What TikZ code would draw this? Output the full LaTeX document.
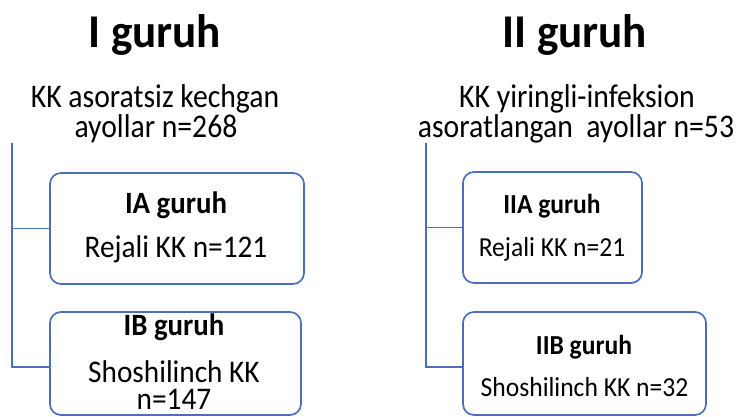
\documentclass[tikz,border=0pt]{standalone}
\usepackage{fontspec}
\setmainfont{Carlito}
\definecolor{lineblue}{RGB}{74,112,188}
\begin{document}
\begin{tikzpicture}[x=1pt,y=-1pt,
  box/.style={draw=lineblue,line width=1.7pt,rounded corners=11pt,inner sep=0pt},
  conn/.style={draw=lineblue,line width=1.7pt},
  txt/.style={anchor=base,inner sep=0pt},
  title/.style={txt,xscale=0.96,font=\fontsize{47}{52}\selectfont\bfseries},
  sub/.style={txt,xscale=0.9,font=\fontsize{33}{38}\selectfont},
  lbold/.style={txt,xscale=0.93,font=\fontsize{31}{36}\selectfont\bfseries},
  ltext/.style={txt,xscale=0.93,font=\fontsize{31.5}{36}\selectfont},
  ltwo/.style={txt,xscale=0.93,align=center,font=\fontsize{31.5}{27}\selectfont},
  rbold/.style={txt,xscale=0.93,font=\fontsize{27.5}{32}\selectfont\bfseries},
  rtext/.style={txt,xscale=0.93,font=\fontsize{27.5}{32}\selectfont}]
\useasboundingbox[fill=white] (0,0) rectangle (737,417);
% titles
\node[title] (t1) at (155,48) {I guruh};
\node[title] (t2) at (575,48) {II guruh};
\node[sub] (s1a) at (155,108) {KK asoratsiz kechgan};
\node[sub] (s1b) at (156,138) {ayollar n=268};
\node[sub] (s2a) at (577,108) {KK yiringli-infeksion};
\node[sub] (s2b) at (576,138) {asoratlangan\ \ ayollar n=53};
% boxes
\node[box,minimum width=254pt,minimum height=111pt] (IA) at (177,228.5) {};
\node[box,minimum width=251pt,minimum height=103pt] (IB) at (175.5,363.5) {};
\node[box,minimum width=179pt,minimum height=111pt] (IIA) at (552.5,227.5) {};
\node[box,minimum width=243pt,minimum height=103pt] (IIB) at (584.5,363.5) {};
% box texts
\node[lbold] (iat) at (176,214) {IA guruh};
\node[ltext] (iab) at (176,258) {Rejali KK n=121};
\node[lbold] (ibt) at (174,335) {IB guruh};
\node[ltwo] (ibb) at (174,409) {Shoshilinch KK\\n=147};
\node[rbold] (iiat) at (552,214) {IIA guruh};
\node[rtext] (iiab) at (552,256) {Rejali KK n=21};
\node[rbold] (iibt) at (584,354) {IIB guruh};
\node[rtext] (iibb) at (584.5,396) {Shoshilinch KK n=32};
% connectors
\coordinate (L) at (12,143);
\coordinate (R) at (426,143);
\draw[conn] (L) |- (IA.west);
\draw[conn] (L) |- ([yshift=-3.5pt]IB.west);
\draw[conn] (R) |- (IIA.west);
\draw[conn] (R) |- ([yshift=-3.5pt]IIB.west);
\end{tikzpicture}
\end{document}
